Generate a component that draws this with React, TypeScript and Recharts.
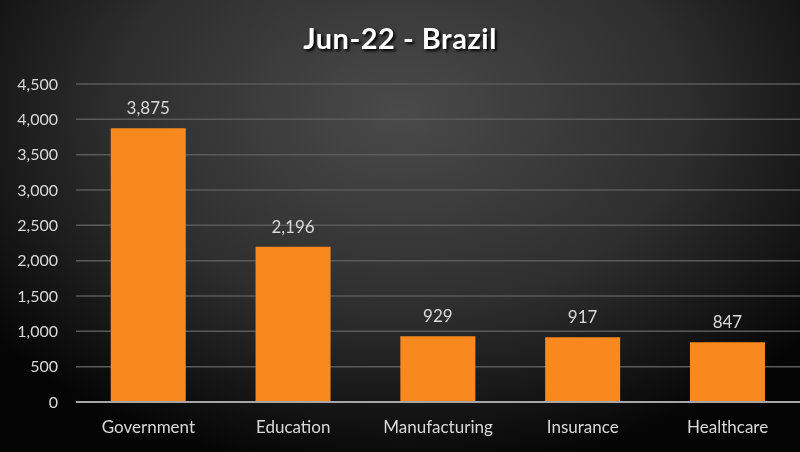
import React from 'react';
import { BarChart, Bar, XAxis, YAxis, CartesianGrid, LabelList } from 'recharts';

const categories = ['Government', 'Education', 'Manufacturing', 'Insurance', 'Healthcare'];
const counts = [3875, 2196, 929, 917, 847];
const yTicks = [0, 500, 1000, 1500, 2000, 2500, 3000, 3500, 4000, 4500];

const data = categories.map((name, i) => ({ name, value: counts[i] }));

const fmt = (v: number) => v.toLocaleString('en-US');

const App: React.FC = () => {
  return (
    <div
      style={{
        position: 'fixed',
        top: 0,
        left: 0,
        width: 800,
        height: 452,
        background: 'radial-gradient(ellipse 65% 80% at 50% 25%, #4a4a4a 0%, #2e2e2e 55%, #050505 100%)',
        fontFamily: 'Lato, "Open Sans", sans-serif',
        overflow: 'hidden',
      }}
    >
      <div
        style={{
          position: 'absolute',
          top: 20,
          left: 0,
          width: 800,
          textAlign: 'center',
          color: '#ffffff',
          fontSize: 29,
          fontWeight: 700,
          textShadow: '2px 2px 3px #000',
          letterSpacing: 0.5,
        }}
      >
        Jun-22 - Brazil
      </div>
      <BarChart
        width={800}
        height={452}
        data={data}
        margin={{ top: 84, right: 0, bottom: 0, left: 0 }}
        barCategoryGap="24%"
      >
        <CartesianGrid vertical={false} stroke="#5a5a5a" strokeWidth={1.5} />
        <YAxis
          width={76}
          domain={[0, 4500]}
          ticks={yTicks}
          tickFormatter={fmt}
          axisLine={false}
          tickLine={false}
          tickSize={0}
          tickMargin={18}
          tick={{ fill: '#d9d9d9', fontSize: 16 }}
        />
        <XAxis
          dataKey="name"
          height={50}
          axisLine={{ stroke: '#a6a6a6', strokeWidth: 2 }}
          tickLine={false}
          tickSize={0}
          tickMargin={19}
          tick={{ fill: '#d9d9d9', fontSize: 17 }}
        />
        <Bar dataKey="value" fill="#f7891f" isAnimationActive={false}>
          <LabelList dataKey="value" position="top" offset={14} formatter={(v: any) => fmt(Number(v))} fill="#d9d9d9" fontSize={17} />
        </Bar>
      </BarChart>
    </div>
  );
};

export default App;
